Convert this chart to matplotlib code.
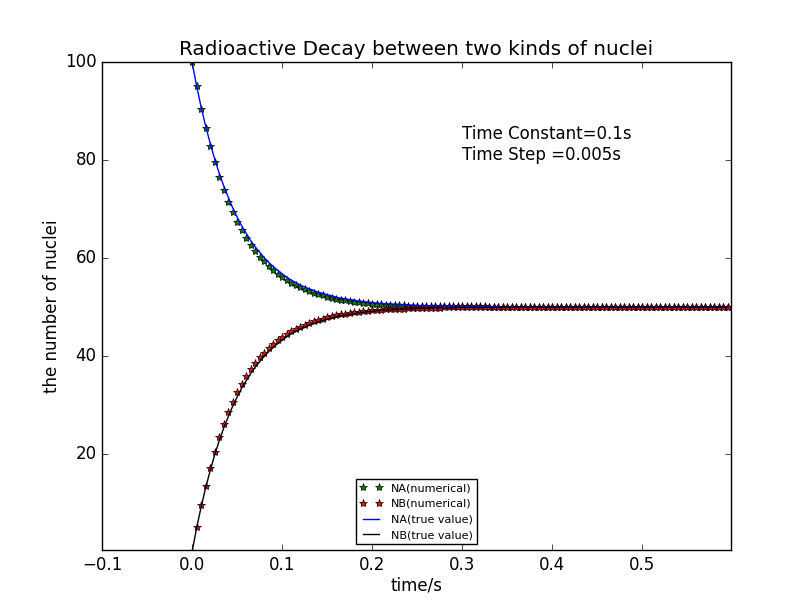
import numpy as np
import matplotlib
matplotlib.use('Agg')
import matplotlib.pyplot as plt

plt.style.use('classic')

# numerical (Euler) values, one per time step
na_num = [100.0, 95.0, 90.5, 86.5, 82.8, 79.5, 76.6, 73.9, 71.5, 69.4,
          67.4, 65.7, 64.1, 62.7, 61.4, 60.3, 59.3, 58.3, 57.5, 56.8,
          56.1, 55.5, 54.9, 54.4, 54.0, 53.6, 53.2, 52.9, 52.6, 52.4,
          52.1, 51.9, 51.7, 51.5, 51.4, 51.3, 51.1, 51.0, 50.9, 50.8,
          50.7, 50.7, 50.6, 50.5, 50.5, 50.4, 50.4, 50.4, 50.3, 50.3,
          50.3, 50.2, 50.2, 50.2, 50.2, 50.2, 50.1, 50.1, 50.1, 50.1,
          50.1, 50.1, 50.1, 50.1, 50.1, 50.1, 50.0, 50.0, 50.0, 50.0,
          50.0, 50.0, 50.0, 50.0, 50.0, 50.0, 50.0, 50.0, 50.0, 50.0,
          50.0, 50.0, 50.0, 50.0, 50.0, 50.0, 50.0, 50.0, 50.0, 50.0,
          50.0, 50.0, 50.0, 50.0, 50.0, 50.0, 50.0, 50.0, 50.0, 50.0,
          50.0, 50.0, 50.0, 50.0, 50.0, 50.0, 50.0, 50.0, 50.0, 50.0,
          50.0, 50.0, 50.0, 50.0, 50.0, 50.0, 50.0, 50.0, 50.0, 50.0]
nb_num = [0.0, 5.0, 9.5, 13.5, 17.2, 20.5, 23.4, 26.1, 28.5, 30.6,
          32.6, 34.3, 35.9, 37.3, 38.6, 39.7, 40.7, 41.7, 42.5, 43.2,
          43.9, 44.5, 45.1, 45.6, 46.0, 46.4, 46.8, 47.1, 47.4, 47.6,
          47.9, 48.1, 48.3, 48.5, 48.6, 48.7, 48.9, 49.0, 49.1, 49.2,
          49.3, 49.3, 49.4, 49.5, 49.5, 49.6, 49.6, 49.6, 49.7, 49.7,
          49.7, 49.8, 49.8, 49.8, 49.8, 49.8, 49.9, 49.9, 49.9, 49.9,
          49.9, 49.9, 49.9, 49.9, 49.9, 49.9, 50.0, 50.0, 50.0, 50.0,
          50.0, 50.0, 50.0, 50.0, 50.0, 50.0, 50.0, 50.0, 50.0, 50.0,
          50.0, 50.0, 50.0, 50.0, 50.0, 50.0, 50.0, 50.0, 50.0, 50.0,
          50.0, 50.0, 50.0, 50.0, 50.0, 50.0, 50.0, 50.0, 50.0, 50.0,
          50.0, 50.0, 50.0, 50.0, 50.0, 50.0, 50.0, 50.0, 50.0, 50.0,
          50.0, 50.0, 50.0, 50.0, 50.0, 50.0, 50.0, 50.0, 50.0, 50.0]

# true values at the same times
na_true = [100.0, 95.2, 90.9, 87.0, 83.5, 80.3, 77.4, 74.8, 72.5, 70.3,
           68.4, 66.6, 65.1, 63.6, 62.3, 61.2, 60.1, 59.1, 58.3, 57.5,
           56.8, 56.1, 55.5, 55.0, 54.5, 54.1, 53.7, 53.4, 53.0, 52.8,
           52.5, 52.3, 52.0, 51.8, 51.7, 51.5, 51.4, 51.2, 51.1, 51.0,
           50.9, 50.8, 50.7, 50.7, 50.6, 50.6, 50.5, 50.5, 50.4, 50.4,
           50.3, 50.3, 50.3, 50.2, 50.2, 50.2, 50.2, 50.2, 50.2, 50.1,
           50.1, 50.1, 50.1, 50.1, 50.1, 50.1, 50.1, 50.1, 50.1, 50.0,
           50.0, 50.0, 50.0, 50.0, 50.0, 50.0, 50.0, 50.0, 50.0, 50.0,
           50.0, 50.0, 50.0, 50.0, 50.0, 50.0, 50.0, 50.0, 50.0, 50.0,
           50.0, 50.0, 50.0, 50.0, 50.0, 50.0, 50.0, 50.0, 50.0, 50.0,
           50.0, 50.0, 50.0, 50.0, 50.0, 50.0, 50.0, 50.0, 50.0, 50.0,
           50.0, 50.0, 50.0, 50.0, 50.0, 50.0, 50.0, 50.0, 50.0, 50.0]
nb_true = [0.0, 4.8, 9.1, 13.0, 16.5, 19.7, 22.6, 25.2, 27.5, 29.7,
           31.6, 33.4, 34.9, 36.4, 37.7, 38.8, 39.9, 40.9, 41.7, 42.5,
           43.2, 43.9, 44.5, 45.0, 45.5, 45.9, 46.3, 46.6, 47.0, 47.2,
           47.5, 47.7, 48.0, 48.2, 48.3, 48.5, 48.6, 48.8, 48.9, 49.0,
           49.1, 49.2, 49.3, 49.3, 49.4, 49.4, 49.5, 49.5, 49.6, 49.6,
           49.7, 49.7, 49.7, 49.8, 49.8, 49.8, 49.8, 49.8, 49.8, 49.9,
           49.9, 49.9, 49.9, 49.9, 49.9, 49.9, 49.9, 49.9, 49.9, 50.0,
           50.0, 50.0, 50.0, 50.0, 50.0, 50.0, 50.0, 50.0, 50.0, 50.0,
           50.0, 50.0, 50.0, 50.0, 50.0, 50.0, 50.0, 50.0, 50.0, 50.0,
           50.0, 50.0, 50.0, 50.0, 50.0, 50.0, 50.0, 50.0, 50.0, 50.0,
           50.0, 50.0, 50.0, 50.0, 50.0, 50.0, 50.0, 50.0, 50.0, 50.0,
           50.0, 50.0, 50.0, 50.0, 50.0, 50.0, 50.0, 50.0, 50.0, 50.0]

time_step = 0.005
t = np.arange(len(na_num)) * time_step

fig = plt.figure(figsize=(8.12, 6.12), dpi=100)
ax = fig.add_axes([0.1256, 0.1013, 0.7746, 0.7974])

ax.plot(t, na_num, 'g*', mec='k', label='NA(numerical)')
ax.plot(t, nb_num, 'r*', mec='k', label='NB(numerical)')
ax.plot(t, na_true, 'b-', label='NA(true value)')
ax.plot(t, nb_true, 'k-', label='NB(true value)')

ax.set_xlim(-0.1, 0.5985)
ax.set_ylim(0.4, 100)
ax.set_title('Radioactive Decay between two kinds of nuclei')
ax.set_xlabel('time/s', labelpad=2)
ax.set_ylabel('the number of nuclei', labelpad=3)
ax.text(0.3, 80, 'Time Constant=0.1s\nTime Step =0.005s')
ax.legend(loc='lower center', prop={'size': 8}, numpoints=2)

fig.savefig('out.png', dpi=100)
